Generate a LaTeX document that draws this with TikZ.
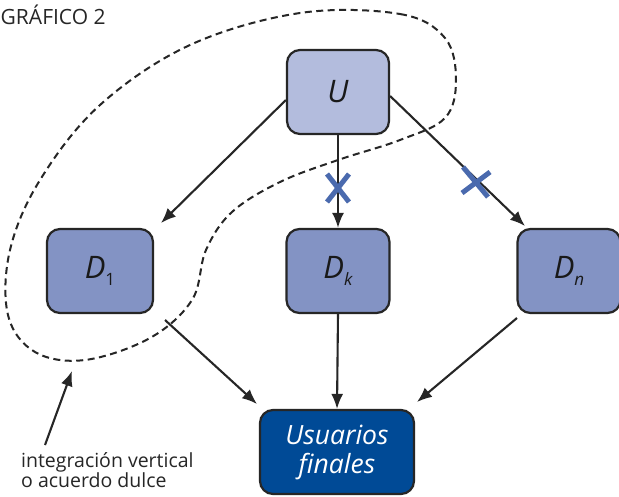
\documentclass[tikz,border=0pt]{standalone}
\usepackage{fontspec}
\setmainfont{Open Sans}
\usetikzlibrary{arrows.meta}
\definecolor{ulight}{HTML}{B3BCDD}
\definecolor{dmid}{HTML}{8393C4}
\definecolor{udark}{HTML}{004A96}
\definecolor{xblue}{HTML}{4A6AAE}
\newcommand{\subx}[1]{\raisebox{-7pt}{\fontsize{17}{17}\selectfont #1}}
\tikzset{
  box/.style={draw=black!85, line width=2.2pt, rounded corners=13pt, minimum width=#1, minimum height=84pt, inner sep=0pt},
  arr/.style={draw=black!85, line width=2.1pt, -{Latex[length=15pt,width=12pt]}},
  xmark/.style={draw=xblue, line width=5pt},
  lbl/.style={font=\fontsize{31}{32}\selectfont\itshape, text=black!90}
}
\begin{document}
\begin{tikzpicture}[x=1pt,y=-1pt]
\clip (0,0) rectangle (619,496);
\useasboundingbox (0,0) rectangle (619,496);
\fill[white] (0,0) rectangle (619,496);

\node[anchor=west, font=\fontsize{21}{24}\selectfont, text=black!85, inner sep=0pt] (title) at (0.5,15) {GRÁFICO 2};

\node[box=102pt, fill=ulight, lbl] (U) at (338,92) {U};
\node[box=106pt, fill=dmid, lbl] (D1) at (100,271) {D\subx{\upshape 1}};
\node[box=103pt, fill=dmid, lbl] (Dk) at (338,271) {D\subx{k}};
\node[box=103pt, fill=dmid, lbl] (Dn) at (569,271) {D\subx{n}};
\node[box=154pt, fill=udark, text=white, align=center, font=\fontsize{26.5}{29}\selectfont\itshape] (UF) at (337,452) {Usuarios\\finales};

\draw[arr] (U.west |- 0,100) -- (161,223);
\draw[arr] (U.south) -- (Dk.north);
\draw[arr] (U.east |- 0,96) -- (525,226);
\draw[arr] (165,320) -- (257,404);
\draw[arr] (Dk.south) -- (UF.north);
\draw[arr] (517,318) -- (417,402);

\draw[xmark] (327,174) -- (349,202) (349,174) -- (327,202);
\draw[xmark] (463,167) -- (488,197) (462,193) -- (490,172);

\draw[line width=2pt, dash pattern=on 7pt off 4.5pt, black!85] plot[smooth cycle, tension=0.6] coordinates {
 (300,13) (400,14) (445,38) (456,80) (445,118) (400,140) (338,160) (280,182) (232,212) (206,250) (192,300) (150,338) (85,360) (35,352) (8,315) (10,250) (40,180) (100,105) (190,45)};

\coordinate (ann) at (72,371);
\draw[arr] (45,445) -- (ann);
\node[anchor=north west, align=left, font=\fontsize{19.5}{20.5}\selectfont, text=black!85, inner sep=0pt] (note) at (21,452) {integración vertical\\o acuerdo dulce};
\end{tikzpicture}
\end{document}
